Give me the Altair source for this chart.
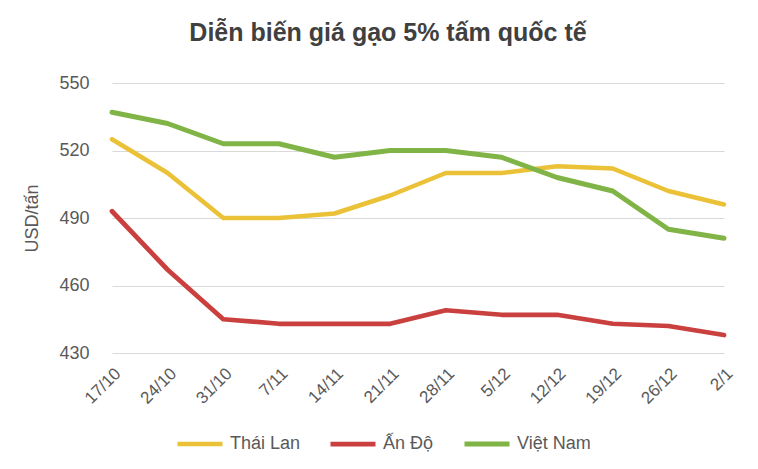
import altair as alt
import pandas as pd

dates = ["17/10", "24/10", "31/10", "7/11", "14/11", "21/11", "28/11", "5/12", "12/12", "19/12", "26/12", "2/1"]
thai_lan = [525, 510, 490, 490, 492, 500, 510, 510, 513, 512, 502, 496]
an_do = [493, 467, 445, 443, 443, 443, 449, 447, 447, 443, 442, 438]
viet_nam = [537, 532, 523, 523, 517, 520, 520, 517, 508, 502, 485, 481]

series = ["Thái Lan", "Ấn Độ", "Việt Nam"]
colors = ["#EBC137", "#C9403F", "#80B446"]
widths = [4.5, 5, 3.5]

rows = []
for name, vals in zip(series, [thai_lan, an_do, viet_nam]):
    for i, (d, v) in enumerate(zip(dates, vals)):
        rows.append({"date": d, "value": v, "series": name, "order": i})
df = pd.DataFrame(rows)

FONT = "Liberation Sans"

chart = alt.Chart(df).mark_line(strokeCap="round", strokeJoin="round").encode(
    x=alt.X("date:N", sort=dates, title=None,
            scale=alt.Scale(type="point", padding=0),
            axis=alt.Axis(labelAngle=-45, labelFontSize=17, labelColor="#595959",
                          ticks=False, domain=False, grid=False, labelPadding=12,
                          labelFont=FONT)),
    y=alt.Y("value:Q", title="USD/tấn",
            scale=alt.Scale(domain=[430, 550], nice=False, zero=False),
            axis=alt.Axis(values=[430, 460, 490, 520, 550], labelFontSize=18, labelColor="#595959",
                          ticks=False, domain=False, gridColor="#D9D9D9", gridWidth=1,
                          labelPadding=23, titleFontSize=18, titleColor="#595959",
                          titleFontWeight="normal", titlePadding=17,
                          labelFont=FONT, titleFont=FONT)),
    color=alt.Color("series:N", sort=series,
                    scale=alt.Scale(domain=series, range=colors),
                    legend=alt.Legend(title=None, orient="none", direction="horizontal",
                                      legendX=63, legendY=336, symbolType="stroke",
                                      symbolSize=2025, symbolStrokeWidth=5,
                                      labelFontSize=18, labelColor="#595959",
                                      labelFont=FONT, columnPadding=20,
                                      gridAlign="none", labelOffset=5)),
    strokeWidth=alt.StrokeWidth("series:N", scale=alt.Scale(domain=series, range=widths), legend=None),
    detail="series:N",
    order="order:Q",
).properties(
    width=612, height=270,
    padding={"left": 104, "top": 75, "right": 24, "bottom": 110},
    autosize="none",
    background="white",
    title=alt.TitleParams("Diễn biến giá gạo 5% tấm quốc tế", fontSize=25, fontWeight="bold",
                          color="#404040", font=FONT, offset=28, dx=-30),
).configure_view(strokeWidth=0, stroke="transparent")

chart.save("out.html", embed_options={"renderer": "svg", "actions": False})
